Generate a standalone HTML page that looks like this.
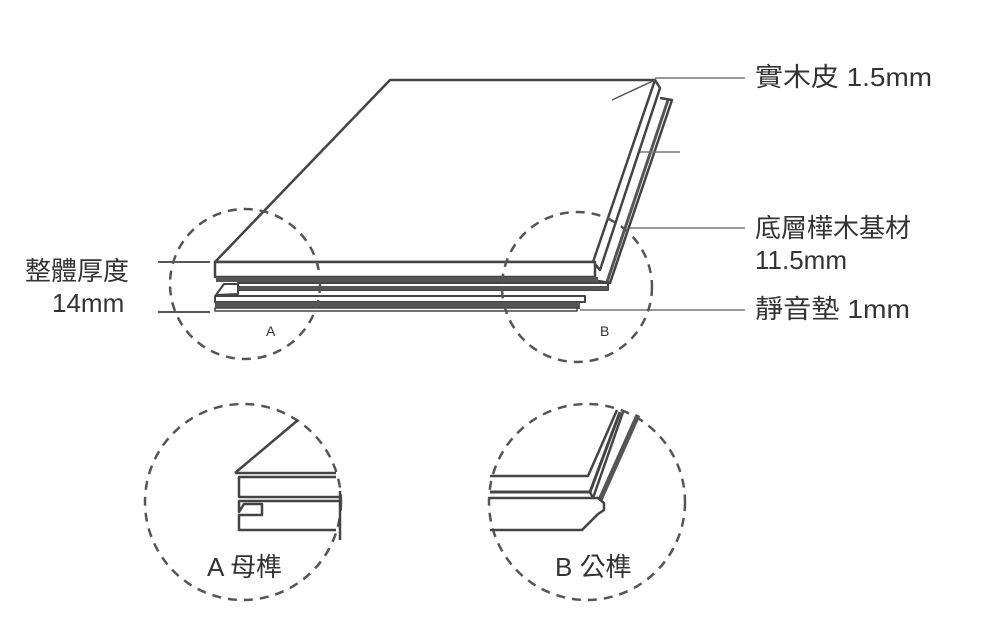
<!DOCTYPE html>
<html><head><meta charset="utf-8"><style>
html,body{margin:0;padding:0;background:#fff;}
svg{display:block}
text{font-family:"Liberation Sans","Noto Sans CJK TC",sans-serif;fill:#333;}
</style></head><body>
<svg width="1000" height="621" viewBox="0 0 1000 621" xmlns="http://www.w3.org/2000/svg">
<g fill="none" stroke="#444" stroke-width="2.5" stroke-linejoin="round">
 <path d="M215,262 L390,80 L655,80 L593,262 Z" fill="#fff"/>
 <path d="M655,80 L660,88 L600,270 L593,262"/>
 <rect x="215" y="262" width="380" height="15" fill="#fff"/>
 <rect x="216" y="277" width="382" height="5" fill="#555" stroke="none"/>
 <path d="M660,98 L672,100 L610,283 L598,281" fill="#fff"/>
 <path d="M668,100 L607,282" stroke="#555" stroke-width="3"/>
 <rect x="238" y="283" width="370" height="7" fill="#fff" stroke-width="2"/>
 <rect x="238" y="286" width="370" height="4" fill="#555" stroke="none"/>
 <path d="M216,295 L224,284 L238,284 L238,294 Z" fill="#fff" stroke-width="2"/>
 <rect x="215" y="296" width="370" height="6" fill="#fff" stroke-width="2"/>
 <rect x="215" y="302" width="365" height="7" fill="#555" stroke="none"/>
 <rect x="215" y="308" width="362" height="3" fill="#fff" stroke-width="1.5"/>
 <path d="M640,152 L680,152" stroke="#777" stroke-width="1.5"/>
 <path d="M655,78 L745,78" stroke="#777" stroke-width="1.5"/>
 <path d="M655,80 L612,100" stroke="#555" stroke-width="1.5"/>
 <path d="M630,228 L745,228" stroke="#777" stroke-width="1.5"/>
 <path d="M580,310 L745,310" stroke="#777" stroke-width="1.5"/>
 <path d="M158,262 L210,262" stroke="#555" stroke-width="2"/>
 <path d="M158,312 L210,312" stroke="#555" stroke-width="2"/>
</g>
<g fill="none" stroke="#555" stroke-width="2.5" stroke-dasharray="9,7">
 <circle cx="245" cy="284" r="75"/>
 <circle cx="577" cy="287" r="75"/>
 <circle cx="243" cy="502" r="98"/>
 <circle cx="587" cy="502" r="98"/>
</g>
<text x="266" y="336" font-size="14" fill="#666">A</text>
<text x="600" y="336" font-size="14" fill="#666">B</text>
<g fill="none" stroke="#444" stroke-width="2.5" stroke-linejoin="round">
 <path d="M235,473 L298,420"/>
 <path d="M235,473 L336,473"/>
 <path d="M336,477 L239,477 L239,497 L340,497"/>
 <path d="M340,491 L340,540"/>
 <path d="M340,501 L239,501 L239,512 L244,504 L262,504 L262,515 L239,515 L239,530 L336,530"/>
</g>
<g fill="none" stroke="#444" stroke-width="2.5" stroke-linejoin="round">
 <path d="M490,476 L588,476 L617,410"/>
 <path d="M490,492 L590,492 L620,412" stroke-width="3"/>
 <path d="M590,492 L593,498 L623,412"/>
 <path d="M600,500 L638,415" stroke="#555" stroke-width="5"/>
 <path d="M490,498 L598,498 L604,503 L604,510 L598,514 L582,530 L490,530"/>
</g>
<g font-size="26">
 <text x="755" y="86" textLength="177" lengthAdjust="spacingAndGlyphs">實木皮 1.5mm</text>
 <text x="755" y="237">底層樺木基材</text>
 <text x="755" y="269">11.5mm</text>
 <text x="755" y="318" textLength="155" lengthAdjust="spacingAndGlyphs">靜音墊 1mm</text>
 <text x="25" y="280">整體厚度</text>
 <text x="52" y="312">14mm</text>
 <text x="207" y="576">A 母榫</text>
 <text x="555" y="576">B 公榫</text>
</g>
</svg>
</body></html>
